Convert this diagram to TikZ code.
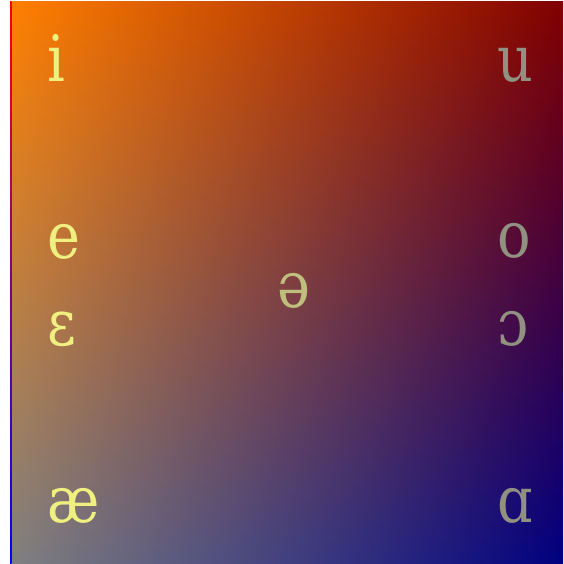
\documentclass[tikz,border=0pt]{standalone}
\usepackage{fontspec}
\setmainfont[FakeStretch=0.87]{DejaVu Serif}
\usetikzlibrary{shadings}
\definecolor{vowelfront}{RGB}{240,240,128}
\definecolor{vowelback}{RGB}{145,145,130}
\definecolor{vowelmid}{RGB}{190,190,125}
\definecolor{cornerul}{RGB}{255,128,0}
\definecolor{cornerur}{RGB}{128,0,0}
\definecolor{cornerll}{RGB}{128,128,128}
\definecolor{cornerlr}{RGB}{0,0,128}
\begin{document}
\begin{tikzpicture}[x=1pt, y=-1pt,
  vowel/.style={inner sep=0pt, anchor=base west, font=\fontsize{64}{64}\selectfont},
  front/.style={vowel, text=vowelfront},
  back/.style={vowel, text=vowelback},
  central/.style={vowel, text=vowelmid}]
\useasboundingbox (0,0) rectangle (563,564);
% vowel space
\shade[shading=bilinear interpolation, upper left=cornerul, upper right=cornerur,
  lower left=cornerll, lower right=cornerlr] (11,2) rectangle (563,564);
\shade[top color=red, bottom color=blue] (10,2) rectangle (11.3,564);
% front vowels
\node[front] (i) at (47,82) {i};
\node[front] (e) at (47,258) {e};
\node[front] (epsilon) at (47,345) {ɛ};
\node[front] (ae) at (47,522) {æ};
% central vowel
\node[central] (schwa) at (277,307) {ə};
% back vowels
\node[back] (u) at (497,82) {u};
\node[back] (o) at (497,257) {o};
\node[back] (openo) at (497,345) {ɔ};
\node[back] (alpha) at (497,522) {ɑ};
\end{tikzpicture}
\end{document}
